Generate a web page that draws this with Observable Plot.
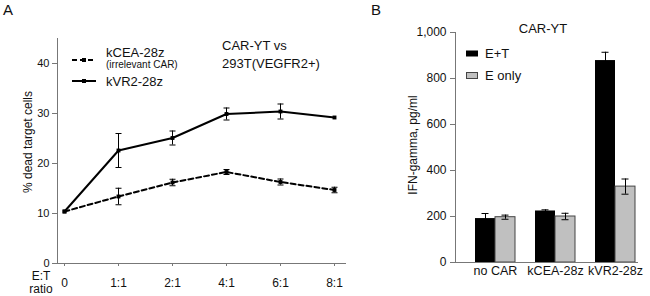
<!DOCTYPE html>
<html><head><meta charset="utf-8">
<script src="https://cdn.jsdelivr.net/npm/d3@7"></script>
<script src="https://cdn.jsdelivr.net/npm/@observablehq/plot@0.6"></script>
<style>
body{margin:0;background:#fff;font-family:"Liberation Sans",Arial,sans-serif;color:#111}
#wrap{position:relative;width:650px;height:296px;overflow:hidden;background:#fff}
#wrap svg{position:absolute;top:0}
.t{position:absolute;white-space:nowrap;line-height:1}
.rot{transform:translate(-50%,-50%) rotate(-90deg)}
.ctr{transform:translate(-50%,0)}
</style></head><body><div id="wrap"></div>
<script>
// Panel A data
const ratios = ["0", "1:1", "2:1", "4:1", "6:1", "8:1"];
const kCEA = [10.4, 13.4, 16.2, 18.3, 16.3, 14.7];
const kCEAErr = [0, 1.65, 0.65, 0.5, 0.6, 0.55];
const kVR2 = [10.4, 22.6, 25.1, 29.9, 30.4, 29.2];
const kVR2Err = [0, 3.4, 1.4, 1.2, 1.5, 0];
const yTicksA = [0, 10, 20, 30, 40];

// Panel B data
const groups = ["no CAR", "kCEA-28z", "kVR2-28z"];
const eT = [191, 224, 878];
const eTErr = [22, 5, 36];
const eOnly = [197, 200, 330];
const eOnlyErr = [9, 14, 33];
const yTicksB = [0, 200, 400, 600, 800, 1000];

const FONT = '"Liberation Sans", Arial, sans-serif';
const wrap = document.getElementById("wrap");

// horizontal cap symbol for error bars (width = sqrt(size))
const cap = {draw(ctx, size) { const w = Math.sqrt(size) / 2; ctx.moveTo(-w, 0); ctx.lineTo(w, 0); }};
const capR = 6 / Math.sqrt(Math.PI);

const rowsA = [];
ratios.forEach((r, i) => {
  rowsA.push({ratio: r, series: "kCEA-28z", v: kCEA[i], e: kCEAErr[i]});
  rowsA.push({ratio: r, series: "kVR2-28z", v: kVR2[i], e: kVR2Err[i]});
});
const errA = rowsA.filter(d => d.e > 0);

const plotA = Plot.plot({
  width: 360, height: 296,
  marginLeft: 57, marginRight: 15, marginTop: 38, marginBottom: 33,
  style: {background: "transparent", fontFamily: FONT, fontSize: "12px", color: "#111"},
  x: {type: "point", domain: ratios, padding: 0, insetLeft: 5.7, insetRight: 9},
  y: {domain: [0, 45]},
  marks: [
    Plot.frame({anchor: "left", stroke: "#777"}),
    Plot.frame({anchor: "bottom", stroke: "#777"}),
    Plot.axisY({ticks: yTicksA, tickSize: 5, tickPadding: 3, fontSize: 11, stroke: "#777", fill: "#111", label: null}),
    Plot.axisX({tickSize: 3, tickPadding: 12, fontSize: 12, stroke: "#777", fill: "#111", label: null}),
    Plot.line(rowsA.filter(d => d.series === "kCEA-28z"), {x: "ratio", y: "v", stroke: "#000", strokeWidth: 2, strokeDasharray: "5,3"}),
    Plot.line(rowsA.filter(d => d.series === "kVR2-28z"), {x: "ratio", y: "v", stroke: "#000", strokeWidth: 2}),
    Plot.ruleX(errA, {x: "ratio", y1: d => d.v - d.e, y2: d => d.v + d.e, stroke: "#000", strokeWidth: 1}),
    Plot.dot(errA, {x: "ratio", y: d => d.v + d.e, symbol: cap, r: capR, stroke: "#000", fill: "none", strokeWidth: 1}),
    Plot.dot(errA, {x: "ratio", y: d => d.v - d.e, symbol: cap, r: capR, stroke: "#000", fill: "none", strokeWidth: 1}),
    Plot.dot(rowsA, {x: "ratio", y: "v", symbol: "square", r: 2.2, fill: "#000", stroke: "none"})
  ]
});
plotA.style.left = "0px";
wrap.appendChild(plotA);

const rowsB = groups.map((g, i) => ({group: g, et: eT[i], etE: eTErr[i], eo: eOnly[i], eoE: eOnlyErr[i]}));

const plotB = Plot.plot({
  width: 280, height: 296,
  marginLeft: 85, marginRight: 13, marginTop: 32, marginBottom: 34,
  style: {background: "transparent", fontFamily: FONT, fontSize: "12px", color: "#111"},
  x: {type: "band", domain: groups, paddingInner: 0.333, paddingOuter: 0, insetLeft: 19.7, insetRight: 2},
  y: {domain: [0, 1000]},
  marks: [
    Plot.barY(rowsB, {x: "group", y: "et", fill: "#000", insetRight: 20}),
    Plot.barY(rowsB, {x: "group", y: "eo", fill: "#c0c0c0", stroke: "#444", strokeWidth: 1, insetLeft: 20}),
    Plot.ruleX(rowsB, {x: "group", y1: d => d.et - d.etE, y2: d => d.et + d.etE, dx: -10, stroke: "#000"}),
    Plot.tickY(rowsB, {x: "group", y: d => d.et + d.etE, insetLeft: 6.5, insetRight: 26.5, stroke: "#000"}),
    Plot.ruleX(rowsB, {x: "group", y1: d => d.eo - d.eoE, y2: d => d.eo + d.eoE, dx: 10, stroke: "#000"}),
    Plot.tickY(rowsB, {x: "group", y: d => d.eo + d.eoE, insetLeft: 26.5, insetRight: 6.5, stroke: "#000"}),
    Plot.tickY(rowsB, {x: "group", y: d => d.eo - d.eoE, insetLeft: 26.5, insetRight: 6.5, stroke: "#000"}),
    Plot.frame({anchor: "left", stroke: "#777"}),
    Plot.frame({anchor: "bottom", stroke: "#777"}),
    Plot.axisY({ticks: yTicksB, tickFormat: d3.format(","), tickSize: 5, tickPadding: 4, fontSize: 12, stroke: "#777", fill: "#111", label: null}),
    Plot.axisX({tickSize: 0, tickPadding: 4, fontSize: 12.5, fill: "#111", label: null})
  ]
});
plotB.style.left = "370px";
wrap.appendChild(plotB);

// Annotations and legends
function addText(txt, opts) {
  const d = document.createElement("div");
  d.className = "t " + (opts.cls || "");
  d.textContent = txt;
  d.style.fontSize = opts.size + "px";
  d.style.left = opts.x + "px";
  d.style.top = (opts.cls && opts.cls.includes("rot") ? opts.y : opts.y - opts.size / 2) + "px";
  wrap.appendChild(d);
}
addText("A", {x: 3, y: 9, size: 15});
addText("B", {x: 371, y: 9, size: 15});
addText("% dead target cells", {x: 28, y: 142, size: 12, cls: "rot"});
addText("E:T", {x: 41, y: 276, size: 12, cls: "ctr"});
addText("ratio", {x: 41, y: 289, size: 12, cls: "ctr"});
addText("kCEA-28z", {x: 106, y: 52, size: 13});
addText("(irrelevant CAR)", {x: 106, y: 64.5, size: 10});
addText("kVR2-28z", {x: 106, y: 81, size: 13});
addText("CAR-YT vs", {x: 222, y: 45, size: 13});
addText("293T(VEGFR2+)", {x: 222, y: 63, size: 13});
addText("CAR-YT", {x: 543, y: 28, size: 13, cls: "ctr"});
addText("E+T", {x: 485, y: 53.5, size: 13});
addText("E only", {x: 485, y: 75.5, size: 13});
addText("IFN-gamma, pg/ml", {x: 413, y: 145, size: 12, cls: "rot"});

const ns = "http://www.w3.org/2000/svg";
const leg = document.createElementNS(ns, "svg");
leg.setAttribute("width", 650); leg.setAttribute("height", 296);
leg.style.left = "0px"; leg.style.pointerEvents = "none";
leg.innerHTML = `
  <line x1="72" y1="60" x2="96" y2="60" stroke="#000" stroke-width="2" stroke-dasharray="5,3"/>
  <rect x="82" y="58" width="4" height="4" fill="#000"/>
  <line x1="72" y1="81" x2="96" y2="81" stroke="#000" stroke-width="2"/>
  <rect x="82" y="79" width="4" height="4" fill="#000"/>
  <rect x="466" y="50.5" width="12" height="6" fill="#000"/>
  <rect x="466.5" y="72.5" width="11" height="6" fill="#c0c0c0" stroke="#444" stroke-width="1"/>`;
wrap.appendChild(leg);
</script></body></html>
